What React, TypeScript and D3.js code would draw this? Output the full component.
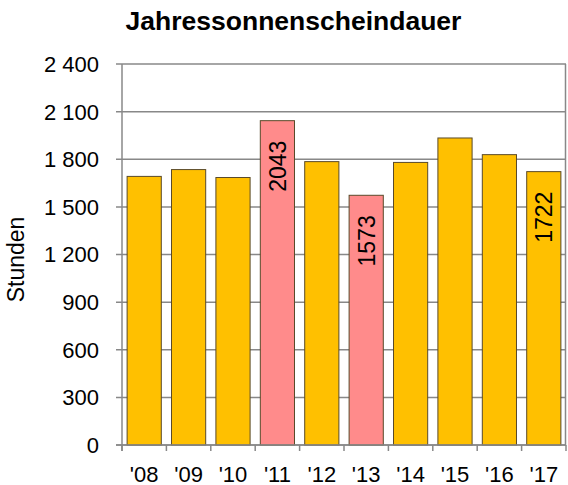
import React, { useRef, useEffect } from "react";
import * as d3 from "d3";

const years = ["'08", "'09", "'10", "'11", "'12", "'13", "'14", "'15", "'16", "'17"];
const hours = [1692, 1735, 1685, 2043, 1785, 1573, 1780, 1934, 1829, 1722];
const highlighted = ["'11", "'13"];
const labelled = ["'11", "'13", "'17"];
const yTicks = [0, 300, 600, 900, 1200, 1500, 1800, 2100, 2400];

const App = () => {
  const canvas = useRef<SVGSVGElement>(null);

  const width = 568;
  const height = 485;
  const margin = { top: 64, right: 2, bottom: 40, left: 122 };

  useEffect(() => {
    const svg = d3.select(canvas.current);
    svg.selectAll("*").remove();

    const x = d3.scaleBand()
      .domain(years)
      .range([margin.left, width - margin.right])
      .paddingInner(0.23)
      .paddingOuter(0.115);

    const y = d3.scaleLinear()
      .domain([0, 2400])
      .range([height - margin.bottom, margin.top]);

    const fmt = (v: number) => d3.format(",")(v).replace(",", " ");
    const font = "'Liberation Sans', Arial, sans-serif";
    const plotW = width - margin.left - margin.right;

    // gridlines
    svg.append("g")
      .selectAll("line")
      .data(yTicks)
      .enter()
      .append("line")
      .attr("x1", margin.left - 6)
      .attr("x2", width - margin.right)
      .attr("y1", (d) => y(d))
      .attr("y2", (d) => y(d))
      .style("stroke", "#888")
      .style("stroke-width", 1.5);

    // right border
    svg.append("line")
      .attr("x1", width - margin.right - 0.5)
      .attr("x2", width - margin.right - 0.5)
      .attr("y1", y(2400))
      .attr("y2", y(0))
      .style("stroke", "#888")
      .style("stroke-width", 1.5);

    svg.append("g")
      .selectAll("text")
      .data(yTicks)
      .enter()
      .append("text")
      .attr("x", margin.left - 23)
      .attr("y", (d) => y(d))
      .attr("dy", "0.36em")
      .attr("text-anchor", "end")
      .style("font-family", font)
      .style("font-size", "22px")
      .text((d) => fmt(d));

    // bars
    svg.append("g")
      .selectAll("rect")
      .data(years)
      .enter()
      .append("rect")
      .attr("x", (d) => x(d) as number)
      .attr("y", (d, i) => y(hours[i]))
      .attr("width", x.bandwidth())
      .attr("height", (d, i) => y(0) - y(hours[i]))
      .style("fill", (d) => highlighted.includes(d) ? "#FF8B8B" : "#FFC000")
      .style("stroke", "#5a4a2a")
      .style("stroke-width", 1);

    // value labels
    svg.append("g")
      .selectAll("text")
      .data(years.filter((d) => labelled.includes(d)))
      .enter()
      .append("text")
      .attr("transform", (d) => {
        const cx = (x(d) as number) + x.bandwidth() / 2;
        const top = y(hours[years.indexOf(d)]);
        return "translate(" + (cx + 8.5) + "," + (top + 20) + ") rotate(-90)";
      })
      .attr("text-anchor", "end")
      .style("font-family", font)
      .style("font-size", "23px")
      .text((d) => String(hours[years.indexOf(d)]));

    // axes
    svg.append("line")
      .attr("x1", margin.left)
      .attr("x2", margin.left)
      .attr("y1", y(2400))
      .attr("y2", y(0) + 6)
      .style("stroke", "#888")
      .style("stroke-width", 1.5);

    svg.append("line")
      .attr("x1", margin.left - 6)
      .attr("x2", width - margin.right)
      .attr("y1", y(0))
      .attr("y2", y(0))
      .style("stroke", "#888")
      .style("stroke-width", 1.5);

    svg.append("g")
      .selectAll("line")
      .data(d3.range(years.length + 1))
      .enter()
      .append("line")
      .attr("x1", (i) => margin.left + i * plotW / years.length)
      .attr("x2", (i) => margin.left + i * plotW / years.length)
      .attr("y1", y(0))
      .attr("y2", y(0) + 6)
      .style("stroke", "#888")
      .style("stroke-width", 1.5);

    svg.append("g")
      .selectAll("text")
      .data(years)
      .enter()
      .append("text")
      .attr("x", (d) => (x(d) as number) + x.bandwidth() / 2)
      .attr("y", y(0) + 36.5)
      .attr("text-anchor", "middle")
      .style("font-family", font)
      .style("font-size", "22px")
      .text((d) => d);

    svg.append("text")
      .attr("transform", "translate(23.5," + 259.5 + ") rotate(-90)")
      .attr("text-anchor", "middle")
      .style("font-family", font)
      .style("font-size", "23px")
      .text("Stunden");

    svg.append("text")
      .attr("x", 293.5)
      .attr("y", 30)
      .attr("text-anchor", "middle")
      .style("font-family", font)
      .style("font-size", "26.5px")
      .style("font-weight", "bold")
      .text("Jahressonnenscheindauer");
  });

  return (
    <svg
      ref={canvas}
      width={width}
      height={height}
      style={{ position: "absolute", left: 0, top: 0, background: "#fff" }}
    ></svg>
  );
};

export default App;
